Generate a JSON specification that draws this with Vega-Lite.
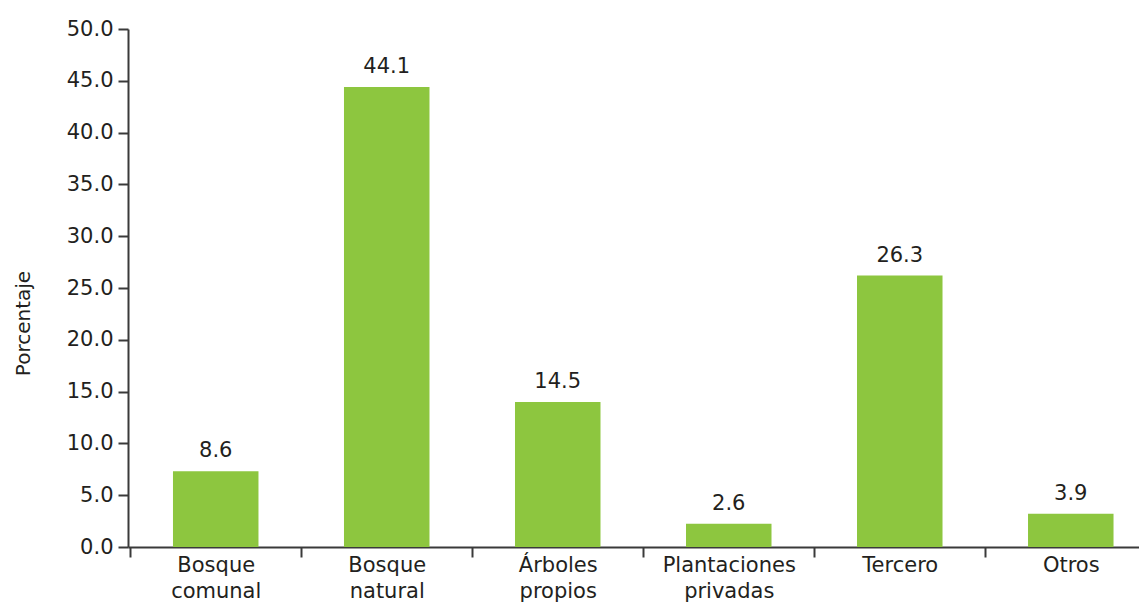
{
  "$schema": "https://vega.github.io/schema/vega-lite/v6.json",
  "width": 1011,
  "height": 518,
  "autosize": {"type": "none"},
  "padding": {"left": 128, "top": 29, "right": 0, "bottom": 63},
  "background": "white",
  "config": {"view": {"stroke": null}, "font": "DejaVu Sans"},
  "data": {
    "values": [
      {"categoria": "Bosque comunal", "altura": 7.3, "etiqueta": 8.6},
      {"categoria": "Bosque natural", "altura": 44.4, "etiqueta": 44.1},
      {"categoria": "Árboles propios", "altura": 14.0, "etiqueta": 14.5},
      {"categoria": "Plantaciones privadas", "altura": 2.25, "etiqueta": 2.6},
      {"categoria": "Tercero", "altura": 26.2, "etiqueta": 26.3},
      {"categoria": "Otros", "altura": 3.2, "etiqueta": 3.9}
    ]
  },
  "encoding": {
    "x": {
      "field": "categoria",
      "type": "nominal",
      "sort": null,
      "scale": {"range": [0, 1030.5], "paddingInner": 0.5, "paddingOuter": 0.263},
      "axis": {
        "title": null,
        "labelAngle": 0,
        "labelExpr": "split(datum.label, ' ')",
        "labelFont": "DejaVu Sans",
        "labelFontSize": 21,
        "labelLineHeight": 26,
        "labelBaseline": "top",
        "labelColor": "#231F20",
        "labelPadding": -3,
        "bandPosition": 0,
        "tickOffset": -42.75,
        "labelOffset": 42.75,
        "tickSize": 10,
        "tickWidth": 2,
        "tickColor": "#3a3a3a",
        "domainWidth": 2,
        "domainColor": "#3a3a3a",
        "grid": false
      }
    }
  },
  "layer": [
    {
      "mark": {"type": "bar", "color": "#8DC63F"},
      "encoding": {
        "y": {
          "field": "altura",
          "type": "quantitative",
          "scale": {"domain": [0, 50], "nice": false},
          "axis": {
            "title": "Porcentaje",
            "titleFont": "DejaVu Sans",
            "titleFontSize": 20,
            "titleFontWeight": "normal",
            "titleColor": "#231F20",
            "titleX": -105,
            "titleY": 294,
            "titleAlign": "center",
            "titleBaseline": "middle",
            "titleAngle": 270,
            "values": [0, 5, 10, 15, 20, 25, 30, 35, 40, 45, 50],
            "format": ".1f",
            "labelFont": "DejaVu Sans",
            "labelFontSize": 21,
            "labelColor": "#231F20",
            "labelPadding": 5,
            "tickSize": 10,
            "tickWidth": 2,
            "tickColor": "#3a3a3a",
            "domainWidth": 2,
            "domainColor": "#3a3a3a",
            "grid": false
          }
        }
      }
    },
    {
      "mark": {"type": "text", "baseline": "alphabetic", "dy": -14, "fontSize": 21, "font": "DejaVu Sans", "color": "#231F20"},
      "encoding": {
        "y": {"field": "altura", "type": "quantitative"},
        "text": {"field": "etiqueta", "type": "quantitative", "format": ".1f"}
      }
    }
  ]
}
